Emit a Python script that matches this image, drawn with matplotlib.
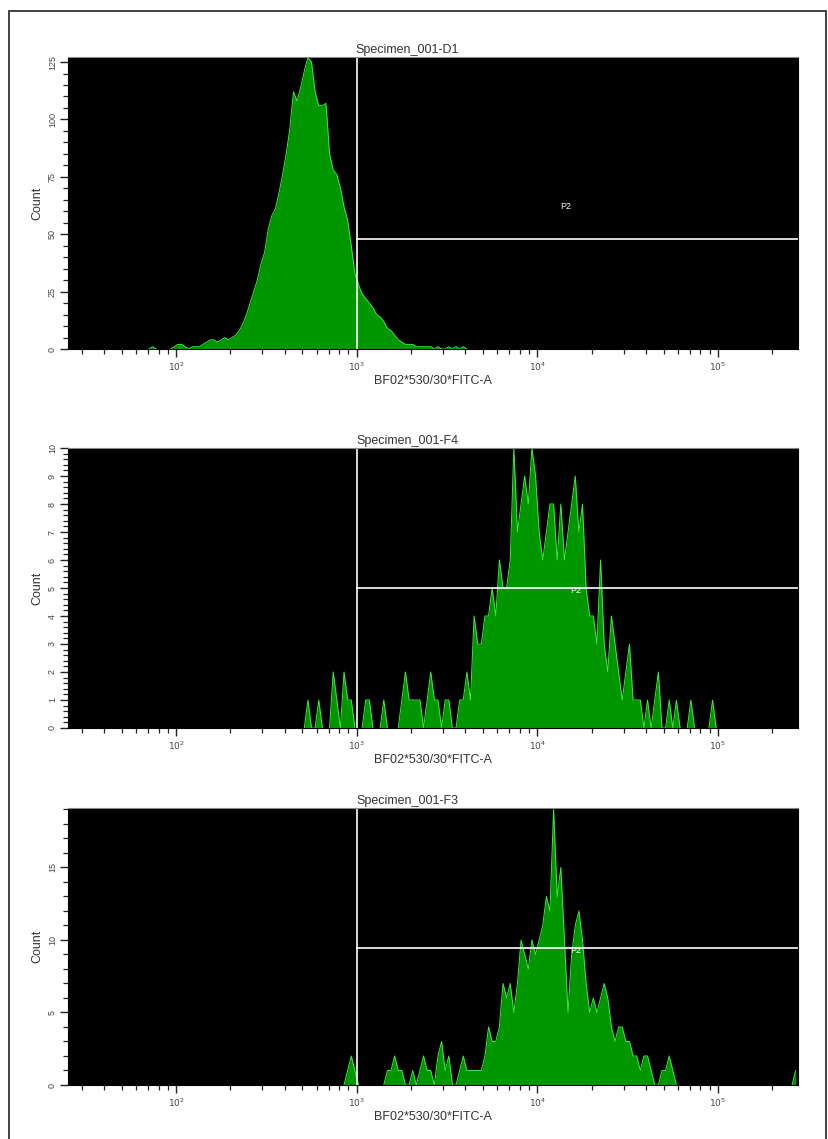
import numpy as np
import matplotlib.pyplot as plt
from matplotlib.patches import Rectangle
from matplotlib.ticker import FixedLocator, MultipleLocator, NullFormatter

plt.rcParams['font.family'] = ['Liberation Sans', 'DejaVu Sans']

# histogram bins are log10 spaced, width 0.02 decade
bin_w = 0.02

titles = ['Specimen_001-D1', 'Specimen_001-F4', 'Specimen_001-F3']
xlabel = 'BF02*530/30*FITC-A'

# panel 1 (D1), bins start at log10 = 1.80
start_d1 = 1.80
counts_d1 = [0, 0, 0, 1, 0, 0, 0, 0, 0, 1,
             2, 2, 1, 0, 1, 1, 1, 2, 3, 4,
             4, 3, 4, 5, 4, 5, 6, 8, 11, 15,
             20, 25, 30, 37, 42, 52, 58, 61, 68, 76,
             85, 96, 112, 108, 114, 121, 127, 125, 112, 106,
             106, 107, 85, 78, 76, 70, 62, 56, 45, 33,
             28, 24, 22, 20, 18, 15, 14, 12, 9, 8,
             6, 4, 3, 2, 2, 2, 1, 1, 1, 1,
             1, 0, 1, 0, 0, 1, 0, 1, 0, 1,
             0, 0, 0, 0, 0]

# panel 2 (F4), bins start at log10 = 2.60
start_f4 = 2.60
counts_f4 = [0, 0, 0, 0, 0, 0, 1, 0, 0, 1,
             0, 0, 0, 2, 1, 0, 2, 1, 1, 0,
             0, 0, 1, 1, 0, 0, 0, 1, 0, 0,
             0, 0, 1, 2, 1, 1, 1, 1, 0, 1,
             2, 1, 1, 0, 1, 1, 0, 0, 1, 1,
             2, 1, 4, 3, 3, 4, 4, 5, 4, 6,
             5, 5, 6, 10, 7, 8, 9, 8, 10, 9,
             7, 6, 7, 8, 8, 6, 8, 6, 7, 8,
             9, 7, 8, 5, 4, 4, 3, 6, 3, 2,
             4, 3, 2, 1, 2, 3, 1, 1, 1, 0,
             1, 0, 1, 2, 0, 0, 1, 0, 1, 0,
             0, 0, 1, 0, 0, 0, 0, 0, 1, 0]

# panel 3 (F3), bins start at log10 = 2.80
start_f3 = 2.80
counts_f3 = [0, 0, 0, 0, 0, 0, 0, 1, 2, 1,
             0, 0, 0, 0, 0, 0, 0, 0, 1, 1,
             2, 1, 1, 0, 0, 1, 0, 1, 2, 1,
             1, 0, 2, 3, 1, 2, 0, 0, 1, 2,
             1, 1, 1, 1, 1, 2, 4, 3, 3, 4,
             7, 6, 7, 5, 7, 10, 9, 8, 10, 9,
             10, 11, 13, 12, 19, 13, 15, 10, 5, 9,
             11, 12, 10, 7, 5, 6, 5, 6, 7, 6,
             4, 3, 4, 4, 3, 3, 2, 2, 1, 2,
             2, 1, 0, 0, 1, 1, 2, 1, 0, 0,
             0, 0, 0, 0, 0, 0, 0, 0, 0, 0,
             0, 0, 0, 0, 0, 0, 0, 0, 0, 0,
             0, 0, 0, 0, 0, 0, 0, 0, 0, 0,
             0, 1]

starts = [start_d1, start_f4, start_f3]
counts_all = [counts_d1, counts_f4, counts_f3]

# P2 gate: lower bound on x, count level of the marker line
gate_x = [1000, 1000, 1000]
gate_y = [48, 5, 9.45]
p2_x = [14400, 16300, 16300]
p2_y = [62, 4.9, 9.3]

ymax = [127.2, 10, 19.1]
ymajor = [[0, 25, 50, 75, 100, 125], list(range(0, 11)), [0, 5, 10, 15]]
yminor = [5, 0.2, 1]

xlim = (10 ** 1.402, 10 ** 5.443)
xmajor = [1e2, 1e3, 1e4, 1e5]
xmajor_lbl = [r'$10^2$', r'$10^3$', r'$10^4$', r'$10^5$']
xminor = [m * 10 ** d for d in range(1, 6) for m in range(2, 10)]

W, H = 829, 1139
fig = plt.figure(figsize=(W / 100, H / 100), dpi=100)

# axes boxes in pixels: top, bottom
boxes = [(57, 349), (448, 728), (808, 1085)]
left_px, right_px = 68, 798

fill_c = '#009600'
edge_c = '#3ee83e'

for k in range(3):
    top, bot = boxes[k]
    ax = fig.add_axes([left_px / W, 1 - bot / H, (right_px - left_px) / W, (bot - top) / H])
    ax.set_facecolor('black')
    ax.set_xscale('log')
    ax.set_xlim(*xlim)
    ax.set_ylim(0, ymax[k])

    c = np.array(counts_all[k], float)
    centres = 10 ** (starts[k] + bin_w * (np.arange(len(c)) + 0.5))
    ax.fill_between(centres, 0, c, color=fill_c, lw=0)
    # outline only where there is signal (no green line along the baseline)
    nb = np.convolve(c > 0, [1, 1, 1], mode='same') > 0
    ax.plot(centres, np.where(nb, c, np.nan), color=edge_c, lw=0.7)

    # gate
    ax.axvline(gate_x[k], color='white', lw=1.2)
    ax.plot([gate_x[k], xlim[1]], [gate_y[k], gate_y[k]], color='white', lw=1.2)
    ax.text(p2_x[k], p2_y[k], 'P2', color='white', fontsize=6.5, ha='center', va='center')

    ax.xaxis.set_major_locator(FixedLocator(xmajor))
    ax.xaxis.set_minor_locator(FixedLocator(xminor))
    ax.set_xticklabels(xmajor_lbl)
    ax.xaxis.set_minor_formatter(NullFormatter())
    ax.yaxis.set_major_locator(FixedLocator(ymajor[k]))
    ax.yaxis.set_minor_locator(MultipleLocator(yminor[k]))
    for lbl in ax.get_yticklabels():
        lbl.set_rotation(90)
        lbl.set_va('center')
    ax.tick_params(which='major', length=6, width=1, colors='#222222', labelsize=6.5, pad=2)
    ax.tick_params(which='minor', length=3.5, width=0.9, colors='#222222')
    ax.tick_params(axis='x', labelcolor='#444444')
    ax.tick_params(axis='y', labelcolor='#444444', labelsize=6.5)

    for s in ['left', 'bottom', 'right']:
        ax.spines[s].set_color('black')
    ax.spines['top'].set_color('#888888')

    ax.set_ylabel('Count', fontsize=9, color='#333333', labelpad=3)
    ax.set_xlabel(xlabel, fontsize=9, color='#333333', labelpad=2)
    fig.text(407 / W, 1 - (top - 7) / H, titles[k], fontsize=9, color='#333333',
             ha='center', va='center')

# outer frame
fig.add_artist(Rectangle((9 / W, -0.05), (826 - 9) / W, 1 - 11 / H + 0.05,
                         transform=fig.transFigure, fill=False, lw=1.3,
                         edgecolor='#333333', clip_on=False))

fig.savefig('out.png', dpi=100, facecolor='white')
